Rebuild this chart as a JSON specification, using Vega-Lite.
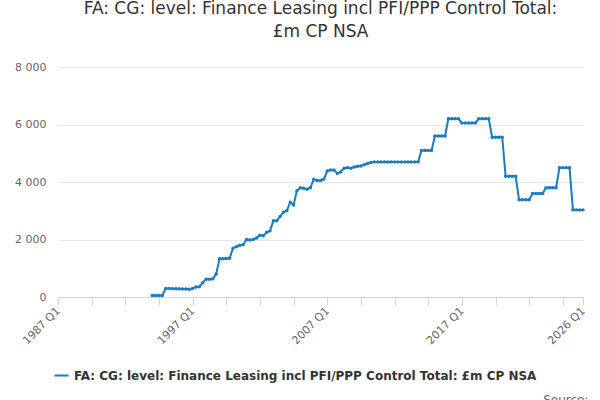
{
"$schema":"https://vega.github.io/schema/vega-lite/v6.json",
"width":525,"height":230,
"autosize":"none",
"padding":{"left":58,"top":67,"right":17,"bottom":103},
"config":{"font":"DejaVu Sans","view":{"stroke":null}},
"title":{"text":["FA: CG: level: Finance Leasing incl PFI/PPP Control Total:","£m CP NSA"],"fontSize":17,"fontWeight":"normal","color":"#333333","anchor":"middle","frame":"group","offset":20,"lineHeight":23},
"data":{"values":[
{"q":28,"v":50},{"q":29,"v":50},{"q":30,"v":50},{"q":31,"v":50},
{"q":32,"v":300},{"q":33,"v":300},{"q":34,"v":290},{"q":35,"v":290},{"q":36,"v":285},{"q":37,"v":280},{"q":38,"v":275},{"q":39,"v":270},
{"q":40,"v":300},{"q":41,"v":350},{"q":42,"v":360},
{"q":43,"v":500},{"q":44,"v":620},{"q":45,"v":620},{"q":46,"v":630},
{"q":47,"v":800},
{"q":48,"v":1330},{"q":49,"v":1330},{"q":50,"v":1340},{"q":51,"v":1350},
{"q":52,"v":1700},{"q":53,"v":1750},{"q":54,"v":1800},{"q":55,"v":1820},
{"q":56,"v":2000},{"q":57,"v":1980},{"q":58,"v":2000},{"q":59,"v":2050},
{"q":60,"v":2150},{"q":61,"v":2130},{"q":62,"v":2250},{"q":63,"v":2300},
{"q":64,"v":2650},{"q":65,"v":2650},{"q":66,"v":2800},{"q":67,"v":2950},
{"q":68,"v":3000},{"q":69,"v":3300},{"q":70,"v":3200},{"q":71,"v":3700},
{"q":72,"v":3800},{"q":73,"v":3780},{"q":74,"v":3750},{"q":75,"v":3800},
{"q":76,"v":4100},{"q":77,"v":4050},{"q":78,"v":4050},{"q":79,"v":4100},
{"q":80,"v":4380},{"q":81,"v":4420},{"q":82,"v":4420},{"q":83,"v":4300},{"q":84,"v":4350},{"q":85,"v":4480},{"q":86,"v":4500},{"q":87,"v":4480},
{"q":88,"v":4520},{"q":89,"v":4550},{"q":90,"v":4560},{"q":91,"v":4600},{"q":92,"v":4640},{"q":93,"v":4680},
{"q":94,"v":4700},{"q":95,"v":4700},{"q":96,"v":4700},{"q":97,"v":4700},{"q":98,"v":4700},{"q":99,"v":4700},{"q":100,"v":4700},
{"q":101,"v":4700},{"q":102,"v":4700},{"q":103,"v":4700},{"q":104,"v":4700},{"q":105,"v":4700},{"q":106,"v":4700},{"q":107,"v":4700},
{"q":108,"v":5100},{"q":109,"v":5100},{"q":110,"v":5100},{"q":111,"v":5100},
{"q":112,"v":5600},{"q":113,"v":5600},{"q":114,"v":5600},{"q":115,"v":5600},
{"q":116,"v":6200},{"q":117,"v":6200},{"q":118,"v":6200},{"q":119,"v":6200},
{"q":120,"v":6050},{"q":121,"v":6050},{"q":122,"v":6050},{"q":123,"v":6050},{"q":124,"v":6050},
{"q":125,"v":6200},{"q":126,"v":6200},{"q":127,"v":6200},{"q":128,"v":6200},
{"q":129,"v":5560},{"q":130,"v":5560},{"q":131,"v":5560},{"q":132,"v":5560},
{"q":133,"v":4200},{"q":134,"v":4200},{"q":135,"v":4200},{"q":136,"v":4200},
{"q":137,"v":3380},{"q":138,"v":3380},{"q":139,"v":3380},{"q":140,"v":3380},
{"q":141,"v":3600},{"q":142,"v":3600},{"q":143,"v":3600},{"q":144,"v":3600},
{"q":145,"v":3800},{"q":146,"v":3800},{"q":147,"v":3800},{"q":148,"v":3800},
{"q":149,"v":4500},{"q":150,"v":4500},{"q":151,"v":4500},{"q":152,"v":4500},
{"q":153,"v":3030},{"q":154,"v":3030},{"q":155,"v":3030},{"q":156,"v":3030}
]},
"mark":{"type":"line","strokeWidth":2,"point":{"size":12,"filled":true}},
"encoding":{
"x":{"field":"q","type":"quantitative","scale":{"domain":[0,156],"nice":false,"zero":false},
"axis":{"values":[0,10,20,30,40,50,60,70,80,90,100,110,120,130,140,150,156],
"labelExpr":"(datum.value == 0 || datum.value == 40 || datum.value == 80 || datum.value == 120 || datum.value == 156) ? (1987 + floor(datum.value/4)) + ' Q1' : ''",
"labelAngle":-45,"labelAlign":"right","labelBaseline":"middle","labelFontSize":11,"labelColor":"#666666","labelPadding":4,"labelOverlap":false,
"grid":false,"domainColor":"#ccd6eb","tickColor":"#ccd6eb","tickSize":8,
"title":"Source:","titleAnchor":"end","titleAlign":"right","titleX":530,"titleY":97,"titleFontWeight":"normal","titleFontSize":12,"titleColor":"#666666"}},
"y":{"field":"v","type":"quantitative","scale":{"domain":[0,8000],"nice":false},
"axis":{"values":[0,2000,4000,6000,8000],"labelExpr":"replace(format(datum.value, ','), ',', ' ')","title":null,
"domain":false,"ticks":false,"gridColor":"#e6e6e6","labelFontSize":11,"labelColor":"#666666","labelPadding":12}},
"color":{"datum":"FA: CG: level: Finance Leasing incl PFI/PPP Control Total: £m CP NSA","type":"nominal","scale":{"range":["#1a7cc1"]},
"legend":{"title":null,"orient":"none","legendX":-5,"legendY":300,"symbolType":"stroke","symbolStrokeWidth":2,"symbolSize":200,"labelFontSize":12,"labelFontWeight":"bold","labelColor":"#333333","labelLimit":600}}
}
}
